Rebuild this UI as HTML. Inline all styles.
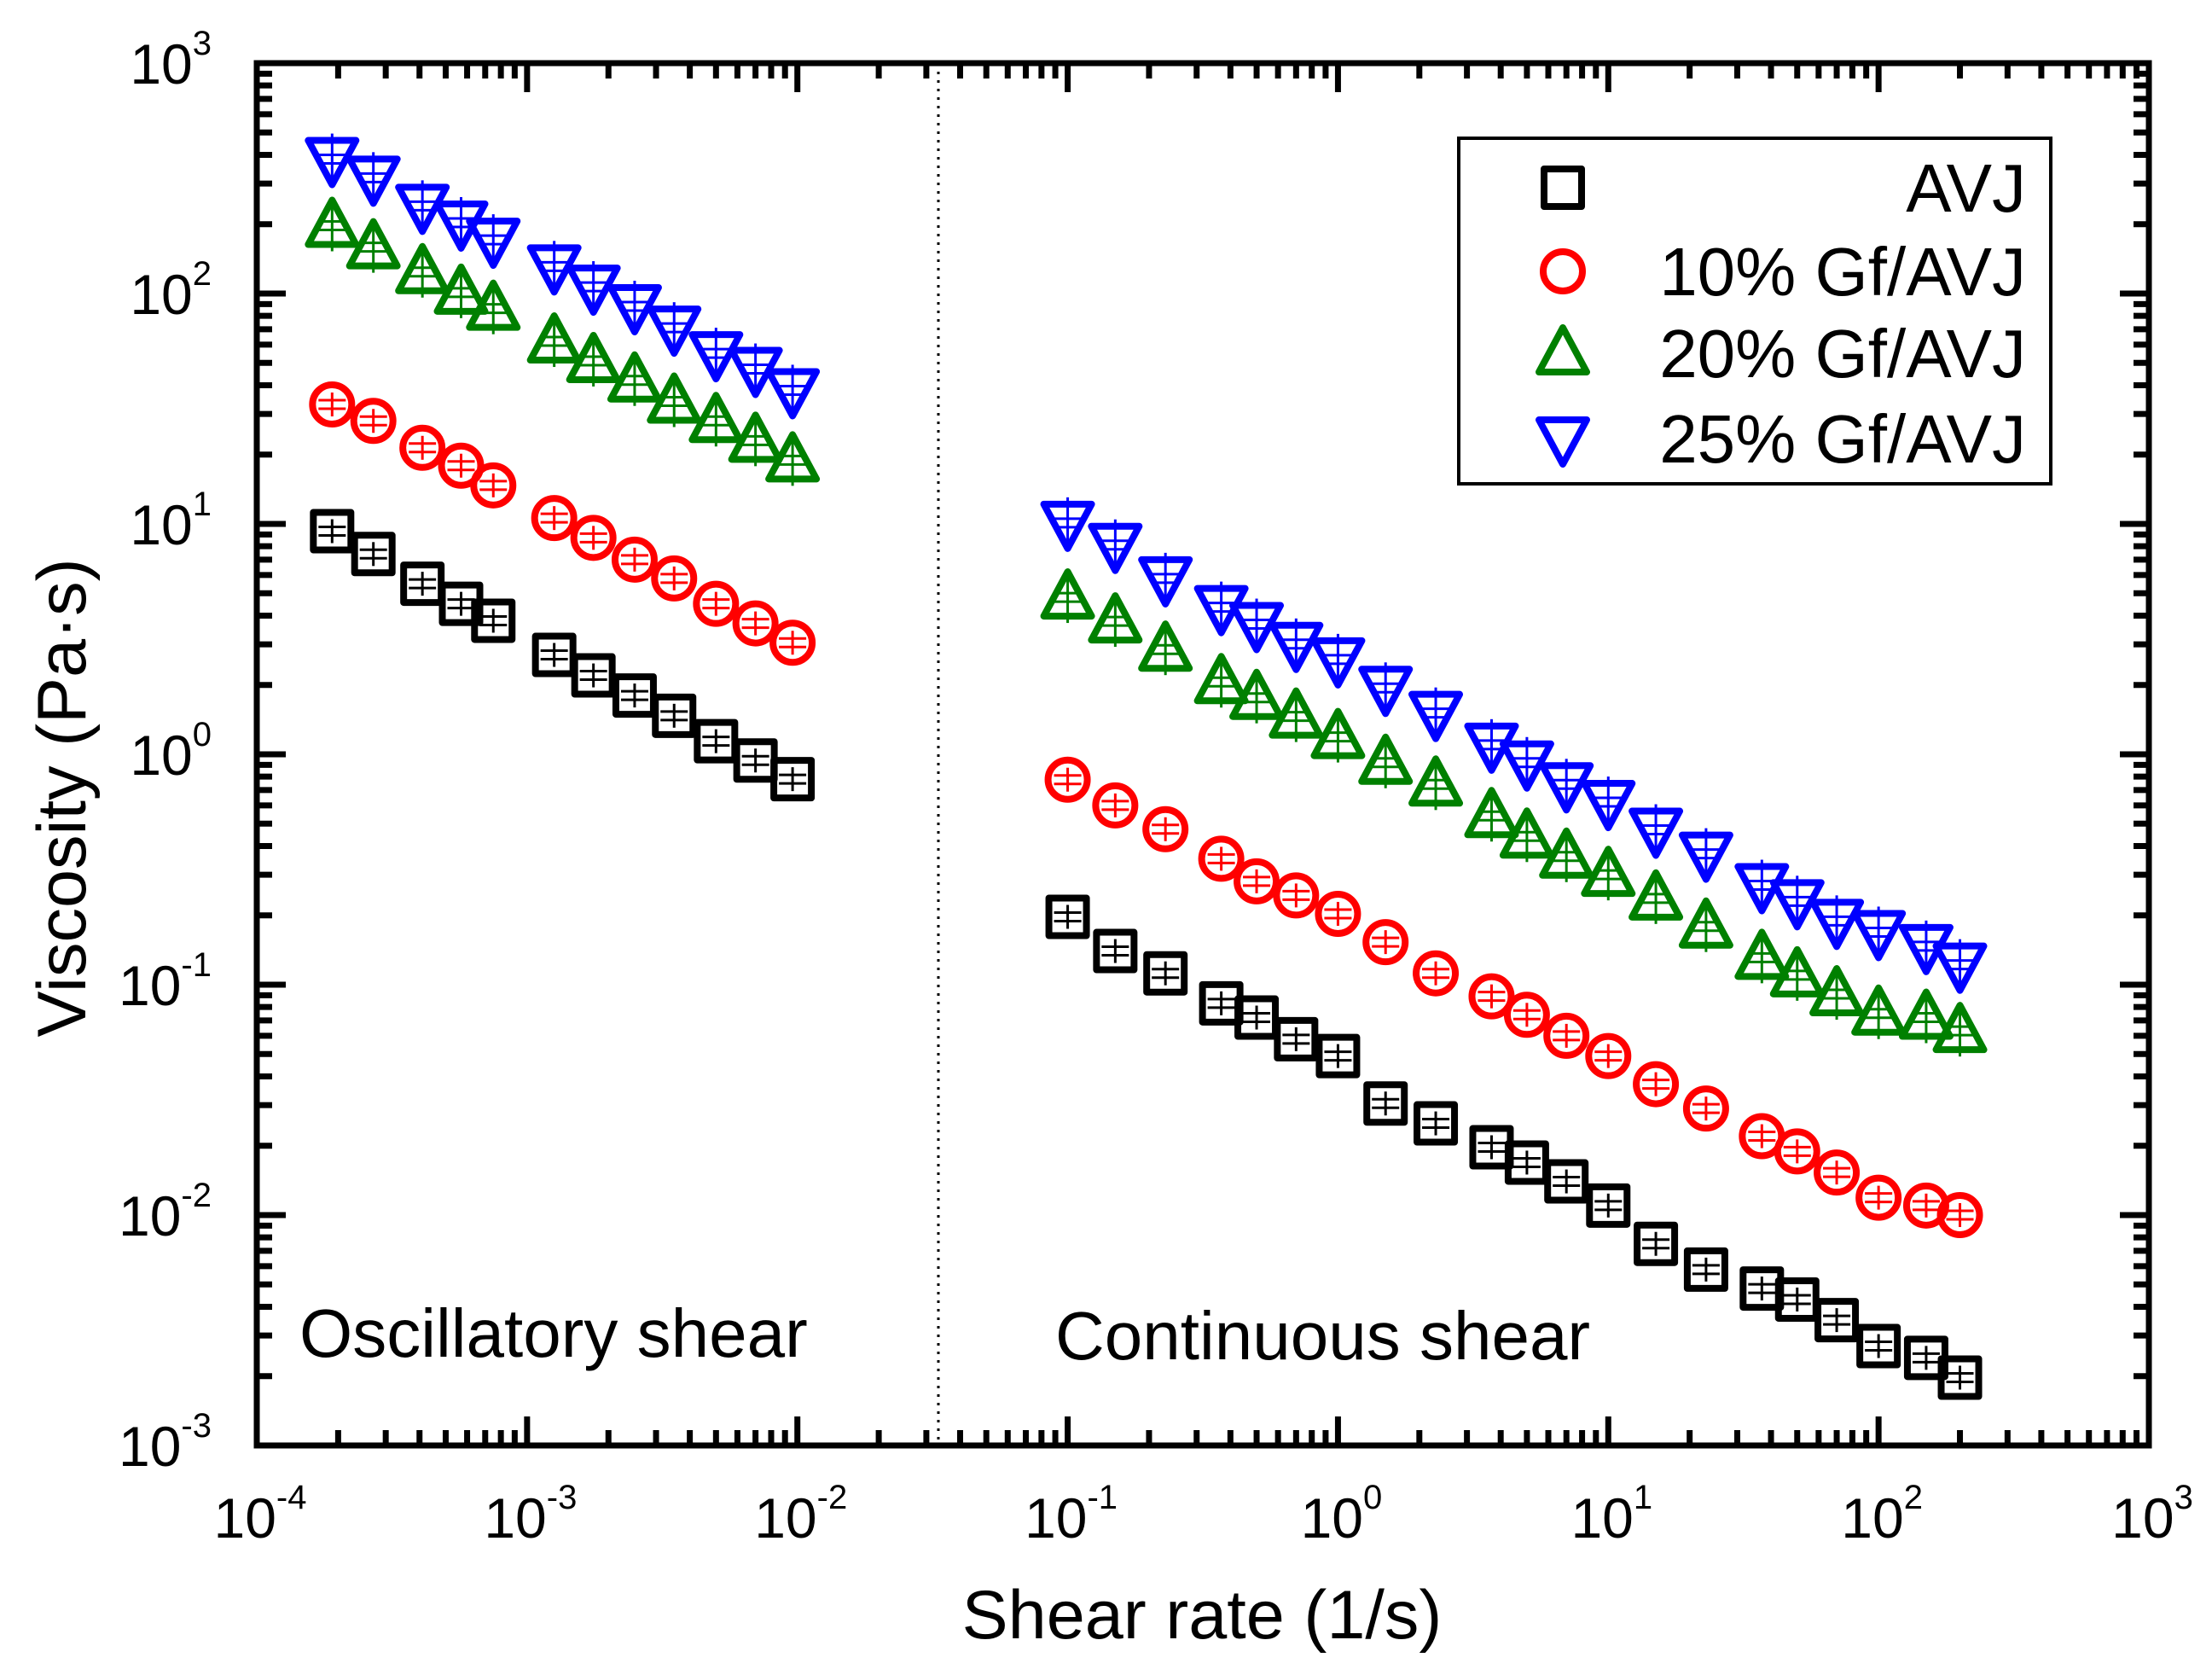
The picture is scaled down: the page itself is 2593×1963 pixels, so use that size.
<!DOCTYPE html>
<html><head><meta charset="utf-8"><style>
body{margin:0;background:#fff;}
svg{display:block;font-family:"Liberation Sans",Arial,sans-serif;}
</style></head><body>
<svg id="chart" width="2593" height="1963" viewBox="0 0 2593 1963" xmlns="http://www.w3.org/2000/svg">
<rect width="2593" height="1963" fill="#fff"/>
<g id="marks"></g>
<g id="axes"></g>
</svg>
<script>
const xOsc = [1.9e-4,2.7e-4,4.1e-4,5.7e-4,7.5e-4,1.26e-3,1.76e-3,2.5e-3,3.5e-3,5e-3,7e-3,9.6e-3];
const xCont = [0.1,0.15,0.23,0.37,0.5,0.7,1,1.5,2.3,3.7,5,7,10,15,23,37,50,70,100,150,200];
const avjOsc = [9.3,7.4,5.5,4.5,3.8,2.7,2.2,1.8,1.47,1.14,0.94,0.78];
const avjCont = [0.197,0.14,0.112,0.083,0.072,0.058,0.049,0.0305,0.025,0.0197,0.0169,0.014,0.011,0.0075,0.0058,0.0048,0.0043,0.0035,0.0027,0.0024,0.00197];
const gf10Osc = [33,28,21.4,17.9,14.7,10.6,8.7,7.0,5.8,4.5,3.7,3.05];
const gf10Cont = [0.776,0.60,0.473,0.352,0.281,0.244,0.203,0.153,0.112,0.089,0.074,0.060,0.049,0.037,0.029,0.022,0.0189,0.0153,0.0119,0.011,0.010];
const gf20Osc = [197,159,124,101,86,62,51,42,34,28,23,18.9];
const gf20Cont = [4.8,3.78,2.85,2.06,1.76,1.46,1.19,0.92,0.74,0.54,0.44,0.36,0.30,0.237,0.179,0.131,0.110,0.091,0.075,0.072,0.063];
const gf25Osc = [383,318,240,203,171,131,107,88,71,55,47,38];
const gf25Cont = [10.1,8.1,5.8,4.35,3.67,3.01,2.58,1.94,1.51,1.10,0.92,0.74,0.62,0.47,0.37,0.27,0.23,0.189,0.169,0.147,0.122];
const xTickExps = [-4,-3,-2,-1,0,1,2,3];
const yTickExps = [3,2,1,0,-1,-2,-3];
const legendLabels = ["AVJ","10% Gf/AVJ","20% Gf/AVJ","25% Gf/AVJ"];

const L=301,R=2519,T=74,B=1694;
const xs=v=>L+(Math.log10(v)+4)*(R-L)/7;
const ys=v=>T+(3-Math.log10(v))*(B-T)/6;
const NS="http://www.w3.org/2000/svg";
function mk(tag,attrs,parent){const e=document.createElementNS(NS,tag);for(const k in attrs)e.setAttribute(k,attrs[k]);parent.appendChild(e);return e;}
const marks=document.getElementById('marks');
const axes=document.getElementById('axes');

function marker(kind,cx,cy,color,parent,err){
  const g=mk('g',{},parent);
  const sw=8;
  if(kind==='sq'){mk('rect',{x:cx-22,y:cy-22,width:44,height:44,fill:'none',stroke:color,'stroke-width':sw,'stroke-linejoin':'round'},g);}
  else if(kind==='ci'){mk('circle',{cx:cx,cy:cy,r:23,fill:'none',stroke:color,'stroke-width':sw},g);}
  else if(kind==='up'){mk('polygon',{points:`${cx},${cy-30} ${cx+28},${cy+22} ${cx-28},${cy+22}`,fill:'none',stroke:color,'stroke-width':sw,'stroke-linejoin':'round'},g);}
  else {mk('polygon',{points:`${cx-28},${cy-22} ${cx+28},${cy-22} ${cx},${cy+30}`,fill:'none',stroke:color,'stroke-width':sw,'stroke-linejoin':'round'},g);}
  if(err){
    const e=kind==='sq'||kind==='ci'?14:30;
    mk('line',{x1:cx,y1:cy-e,x2:cx,y2:cy+e,stroke:color,'stroke-width':3},g);
    mk('line',{x1:cx-16,y1:cy-5,x2:cx+16,y2:cy-5,stroke:color,'stroke-width':3},g);
    mk('line',{x1:cx-16,y1:cy+5,x2:cx+16,y2:cy+5,stroke:color,'stroke-width':3},g);
  }
  return g;
}
const series=[
  {name:'avj',kind:'sq',color:'#000',osc:avjOsc,cont:avjCont},
  {name:'gf10',kind:'ci',color:'#ff0000',osc:gf10Osc,cont:gf10Cont},
  {name:'gf20',kind:'up',color:'#008000',osc:gf20Osc,cont:gf20Cont},
  {name:'gf25',kind:'dn',color:'#0000ff',osc:gf25Osc,cont:gf25Cont}
];
series.forEach(s=>{
  const sg=mk('g',{},marks);
  
  
  s.osc.forEach((v,i)=>{const p=marker(s.kind,xs(xOsc[i]),ys(v),s.color,sg,true);
    
    });
  s.cont.forEach((v,i)=>{const p=marker(s.kind,xs(xCont[i]),ys(v),s.color,sg,true);
    
    });
});

const dv=mk('line',{x1:1100,y1:T,x2:1100,y2:B,stroke:'#000','stroke-width':3,'stroke-dasharray':'3,7'},axes);



const tg=mk('g',{stroke:'#000','stroke-width':7},axes);


for(let d=-4;d<3;d++){for(let m=1;m<10;m++){const x=xs(m*Math.pow(10,d));const len=m===1?34:18;
  mk('line',{x1:x,y1:B,x2:x,y2:B-len},tg);mk('line',{x1:x,y1:T,x2:x,y2:T+len},tg);}}
for(let d=-3;d<3;d++){for(let m=1;m<10;m++){const y=ys(m*Math.pow(10,d));const len=m===1?34:18;
  mk('line',{x1:L,y1:y,x2:L+len,y2:y},tg);mk('line',{x1:R,y1:y,x2:R-len,y2:y},tg);}}
const fr=mk('rect',{x:L,y:T,width:R-L,height:B-T,fill:'none',stroke:'#000','stroke-width':7},axes);



function powLabel(x,y,exp,anchor,parent){
  const t=mk('text',{x:x,y:y,'font-size':66,'text-anchor':anchor,fill:'#000'},parent);
  t.textContent='10';
  const s=mk('tspan',{dy:-34,'font-size':40},t);s.textContent=String(exp);
  return t;
}
xTickExps.forEach(e=>{const t=powLabel(xs(Math.pow(10,e))+4,1802,e,'middle',axes);
  
  });
yTickExps.forEach(e=>{const t=powLabel(248,ys(Math.pow(10,e))+24,e,'end',axes);
  
  });

const lg=mk('g',{},axes);


mk('rect',{x:1710,y:162,width:694,height:405,fill:'#fff',stroke:'#000','stroke-width':4},lg);
const legY=[220,318,414,514];
series.forEach((s,i)=>{
  const e=mk('g',{},lg);
  
  
  marker(s.kind,1832,legY[i],s.color,e,false);
  const t=mk('text',{x:2375,y:legY[i]+28,'font-size':80,'text-anchor':'end',fill:'#000'},e);
  t.textContent=legendLabels[i];
});
</script>
<svg style="position:absolute;left:0;top:0" width="2593" height="1963" xmlns="http://www.w3.org/2000/svg" font-family="Liberation Sans, Arial, sans-serif">
<text x="1409" y="1920" font-size="81" text-anchor="middle">Shear rate (1/s)</text>
<text transform="translate(100,935) rotate(-90)" font-size="81" text-anchor="middle">Viscosity (Pa·s)</text>
<text x="351" y="1590" font-size="80">Oscillatory shear</text>
<text x="1237" y="1593" font-size="80">Continuous shear</text>
</svg>
</body></html>
